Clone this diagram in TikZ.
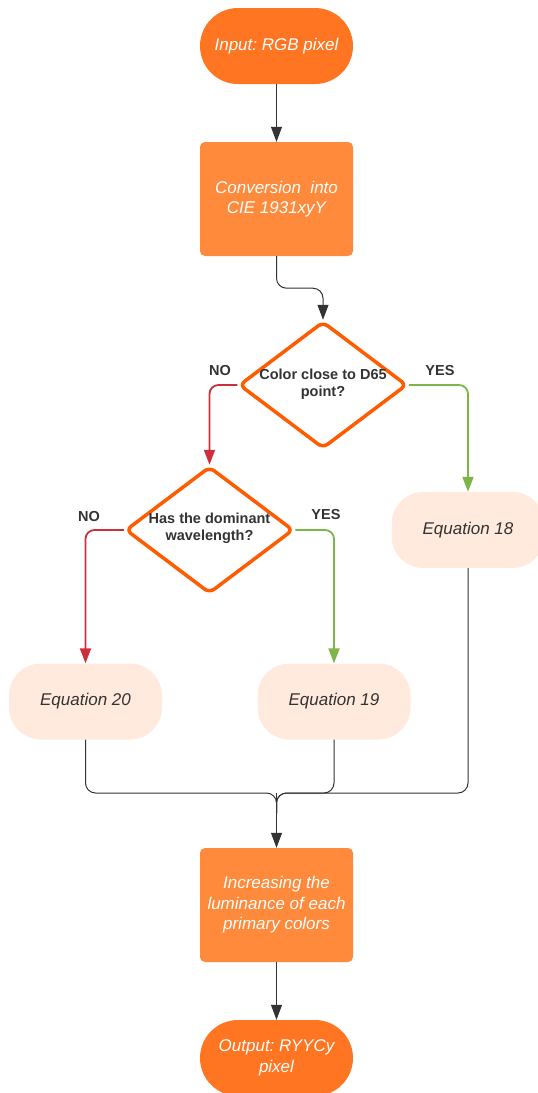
\documentclass[tikz,border=0pt]{standalone}
\usepackage{fontspec}
\setmainfont{Liberation Sans}
\frenchspacing
\usetikzlibrary{shapes.geometric,arrows.meta,calc}
\definecolor{termorange}{HTML}{FF7521}
\definecolor{procorange}{HTML}{FF8A3B}
\definecolor{diaorange}{HTML}{FF5C00}
\definecolor{eqfill}{HTML}{FFEADD}
\definecolor{darktext}{HTML}{333333}
\definecolor{noRed}{HTML}{CC2E3C}
\definecolor{yesGreen}{HTML}{7AB648}
\tikzset{
  x=1pt,y=1pt,
  terminal/.style={rectangle,rounded corners=38pt,fill=termorange,minimum width=153pt,minimum height=76pt,inner sep=0pt,text=white,font=\fontsize{17}{20.5}\selectfont\itshape,align=center},
  process/.style={rectangle,rounded corners=5pt,fill=procorange,minimum width=153pt,minimum height=114pt,inner sep=0pt,text=white,font=\fontsize{17}{20.5}\selectfont\itshape,align=center},
  eqbox/.style={rectangle,rounded corners=32pt,fill=eqfill,minimum width=153pt,minimum height=76pt,inner sep=0pt,text=darktext,font=\fontsize{17}{20.5}\selectfont\itshape},
  decision/.style={diamond,draw=diaorange,line width=3.5pt,rounded corners=6pt,minimum width=168pt,minimum height=127pt,inner sep=0pt,fill=white},
  dectext/.style={text=darktext,font=\fontsize{14.5}{17}\selectfont\bfseries,align=center,inner sep=0pt},
  lbl/.style={text=darktext,font=\fontsize{14.5}{17}\selectfont\bfseries,inner sep=0pt},
  conn/.style={draw=darktext,line width=1pt,rounded corners=10pt},
  branch/.style={line width=1.8pt,rounded corners=9pt},
  tip/.style={-{Triangle[length=15pt,width=11pt]}},
}
\begin{document}
\begin{tikzpicture}
\useasboundingbox (0,0) rectangle (538,-1093);
\clip (0,0) rectangle (538,-1093);
% nodes
\node[terminal] (in) at (276.5,-46) {Input: RGB pixel};
\node[process] (conv) at (276.5,-199) {Conversion\ \ into\\CIE 1931xyY};
\node[decision] (d1) at (323,-385) {};
\node[dectext] (d1t) at (323,-384) {Color close to D65\\point?};
\node[decision] (d2) at (209.5,-530) {};
\node[dectext] (d2t) at (209.5,-528) {Has the dominant\\wavelength?};
\node[eqbox] (eq18) at (468,-530) {Equation 18};
\node[eqbox] (eq20) at (85.5,-701.5) {Equation 20};
\node[eqbox] (eq19) at (334,-701.5) {Equation 19};
\node[process] (inc) at (276.5,-905) {Increasing the\\luminance of each\\primary colors};
\node[terminal] (out) at (276.5,-1058) {Output: RYYCy\\pixel};
% labels
\node[lbl] (no1) at (220,-371) {NO};
\node[lbl] (yes1) at (440,-371) {YES};
\node[lbl] (no2) at (89,-517) {NO};
\node[lbl] (yes2) at (326,-515) {YES};
\coordinate (m) at (276.5,-793);
% connectors
\draw[conn,tip] (in.south) -- (conv.north);
\draw[conn,tip] (conv.south) -- ++(0,-32) -| (d1.north);
\draw[conn,branch,tip,draw=noRed] (d1.west) -| (d2.north);
\draw[conn,branch,tip,draw=yesGreen] (d1.east) -| (eq18.north);
\draw[conn,branch,tip,draw=noRed] (d2.west) -| (eq20.north);
\draw[conn,branch,tip,draw=yesGreen] (d2.east) -| (eq19.north);
\draw[conn] (eq20.south) |- (m) -- ++(0,-20);
\draw[conn] (eq19.south) |- (m) -- ++(0,-20);
\draw[conn] (eq18.south) |- (m) -- ++(0,-20);
\draw[conn,tip] (m) -- (inc.north);
\draw[conn,tip] (inc.south) -- (out.north);
\end{tikzpicture}
\end{document}
